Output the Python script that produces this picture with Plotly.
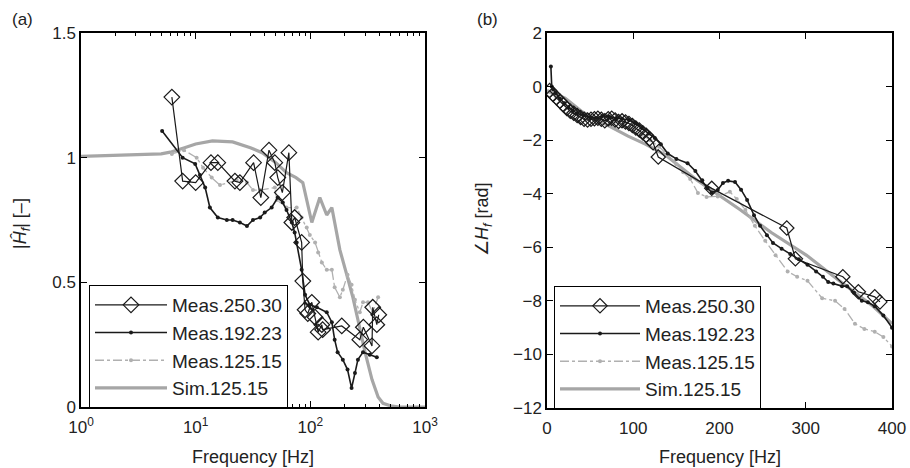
import plotly.graph_objects as go

# ---------------- (a) magnitude ----------------
sim_mag_f = [1, 2, 3, 5, 6, 7, 8, 10, 14, 21, 30, 38, 50, 62, 75, 86, 103, 121, 139, 154, 181, 208, 235, 260, 300, 345, 390, 430, 500, 600, 1000]
sim_mag_v = [1.005, 1.008, 1.01, 1.015, 1.022, 1.03, 1.04, 1.055, 1.067, 1.063, 1.04, 1.02, 0.98, 0.94, 0.92, 0.90, 0.74, 0.84, 0.77, 0.80, 0.63, 0.53, 0.44, 0.35, 0.22, 0.11, 0.04, 0.015, 0.005, 0.0, 0.0]

m125_mag_f = [6.2, 7.9, 10.2, 11.6, 13.8, 16.3, 22.8, 28, 31.6, 36.5, 49, 51, 62, 76, 84, 93, 99, 110, 117, 126, 139, 154, 163, 181, 192, 211, 229, 245, 270, 288, 318, 350, 390]
m125_mag_v = [1.015, 1.03, 1.0, 0.96, 0.92, 0.89, 0.91, 0.90, 0.87, 0.87, 0.88, 0.83, 0.80, 0.80, 0.76, 0.72, 0.69, 0.66, 0.62, 0.58, 0.55, 0.55, 0.48, 0.44, 0.47, 0.53, 0.49, 0.43, 0.38, 0.42, 0.42, 0.38, 0.44]

m192_mag_f = [5.1, 7.7, 9.9, 10.9, 12.1, 13.3, 15.6, 18.7, 21, 24.3, 28, 31.6, 36.5, 40, 46, 52, 57.5, 62, 69, 73, 76, 84, 90, 99, 114, 139, 154, 163, 173, 192, 211, 229, 245, 260, 288, 330, 380]
m192_mag_v = [1.107, 1.0, 0.975, 0.93, 0.88, 0.80, 0.76, 0.75, 0.75, 0.74, 0.726, 0.75, 0.76, 0.78, 0.80, 0.84, 0.82, 0.79, 0.74, 0.70, 0.66, 0.55, 0.45, 0.41, 0.40, 0.38, 0.34, 0.27, 0.22, 0.19, 0.15, 0.076, 0.136, 0.19, 0.22, 0.21, 0.20]

m250_mag_f = [6.2, 7.7, 10, 13.6, 15.6, 22, 24.3, 32, 37, 43.6, 49, 52, 57, 65, 69, 73, 84, 86, 90, 95, 103, 110, 117, 126, 128, 188, 270, 290, 345, 350, 380, 395]
m250_mag_v = [1.243, 0.906, 0.90, 0.98, 0.98, 0.906, 0.90, 0.98, 0.84, 1.03, 0.98, 0.92, 0.86, 1.02, 0.74, 0.76, 0.66, 0.505, 0.39, 0.375, 0.42, 0.36, 0.30, 0.33, 0.31, 0.325, 0.27, 0.32, 0.245, 0.40, 0.33, 0.37]

# ---------------- (b) phase ----------------
sim_ph_f = [0, 21, 41, 67, 94, 114, 137, 174, 224, 260, 279, 301, 337, 378, 400]
sim_ph_v = [-0.15, -0.43, -0.95, -1.4, -1.85, -2.15, -2.55, -3.5, -4.6, -5.45, -5.85, -6.3, -7.2, -8.2, -8.85]

m125_ph_f = [0, 10, 20, 30, 40, 50, 60, 70, 80, 90, 100, 110, 120, 130, 140, 150, 158, 166, 175, 185, 198, 212, 220, 230, 241, 253, 265, 279, 290, 302, 319, 334, 345, 357, 368, 380, 390, 400]
m125_ph_v = [-0.2, -0.35, -0.6, -0.85, -1.0, -1.15, -1.2, -1.2, -1.3, -1.4, -1.6, -1.8, -2.0, -2.25, -2.55, -2.9, -3.2, -3.45, -3.97, -4.12, -4.1, -3.93, -4.2, -4.6, -5.2, -5.76, -6.3, -6.9, -7.1, -7.25, -7.9, -8.0, -8.3, -8.85, -9.05, -9.15, -9.35, -9.7]

m192_ph_f = [4.5, 5.5, 7, 10, 15, 20, 25, 30, 35, 42, 50, 57, 64, 72, 80, 87, 95, 102, 110, 118, 125, 132, 140, 150, 163, 172, 180, 186, 191, 198, 204, 210, 218, 225, 232, 240, 247, 255, 262, 272, 282, 292, 302, 312, 320, 326, 332, 342, 348, 356, 365, 372, 380, 390, 400]
m192_ph_v = [0.75, 0.0, -0.1, -0.25, -0.45, -0.62, -0.78, -0.9, -1.0, -1.08, -1.15, -1.17, -1.1, -1.12, -1.18, -1.2, -1.25, -1.37, -1.55, -1.75, -1.92, -2.15, -2.5, -2.7, -2.86, -3.15, -3.5, -3.8, -3.95, -3.86, -3.6, -3.52, -3.56, -3.85, -4.23, -4.8, -5.2, -5.55, -5.84, -6.05, -6.25, -6.45, -6.65, -6.9, -7.1, -7.3, -7.35, -7.45, -7.45, -7.7, -8.0, -8.05, -8.2, -8.55, -9.0]

m250_ph_f = [3, 7, 11, 15, 19, 23, 27, 31, 35, 39, 43, 47, 51, 55, 59, 63, 67, 71, 75, 79, 83, 87, 91, 95, 99, 103, 107, 111, 115, 119, 123, 129, 191, 278, 288, 343, 361, 380, 386]
m250_ph_v = [-0.15, -0.3, -0.42, -0.55, -0.68, -0.82, -0.92, -1.0, -1.08, -1.15, -1.22, -1.25, -1.22, -1.2, -1.18, -1.22, -1.28, -1.2, -1.18, -1.25, -1.3, -1.28, -1.32, -1.38, -1.45, -1.55, -1.62, -1.72, -1.82, -1.95, -2.1, -2.63, -3.8, -5.28, -6.43, -7.1, -7.66, -7.85, -8.04]

names = ["Meas.250.30", "Meas.192.23", "Meas.125.15", "Sim.125.15"]
log_tickvals = [1, 10, 100, 1000]
log_ticktext = ["10<sup>0</sup>", "10<sup>1</sup>", "10<sup>2</sup>", "10<sup>3</sup>"]
log_minor = [m * 10 ** e for e in range(3) for m in range(2, 10)]

FONT = "Arial, Liberation Sans, Helvetica, sans-serif"
GRAY_SIM = "#a6a6a6"
GRAY_MEAS = "#b0b0b0"

fig = go.Figure()

def add_set(xa, ya, legend, sf, sv, f125, v125, f192, v192, f250, v250, dsize):
    fig.add_trace(go.Scatter(x=sf, y=sv, mode="lines", name=names[3], legendrank=4,
                             line=dict(color=GRAY_SIM, width=3.2), xaxis=xa, yaxis=ya, legend=legend))
    fig.add_trace(go.Scatter(x=f125, y=v125, mode="lines+markers", name=names[2], legendrank=3,
                             line=dict(color=GRAY_MEAS, width=1.3, dash="dashdot"),
                             marker=dict(color=GRAY_MEAS, size=4),
                             xaxis=xa, yaxis=ya, legend=legend))
    fig.add_trace(go.Scatter(x=f192, y=v192, mode="lines+markers", name=names[1], legendrank=2,
                             line=dict(color="#1a1a1a", width=1.6),
                             marker=dict(color="#1a1a1a", size=4),
                             xaxis=xa, yaxis=ya, legend=legend))
    fig.add_trace(go.Scatter(x=f250, y=v250, mode="lines+markers", name=names[0], legendrank=1,
                             line=dict(color="#1a1a1a", width=1.2),
                             marker=dict(symbol="diamond-open", color="#1a1a1a", size=dsize,
                                         line=dict(width=1.2)),
                             xaxis=xa, yaxis=ya, legend=legend))

add_set("x", "y", "legend", sim_mag_f, sim_mag_v, m125_mag_f, m125_mag_v,
        m192_mag_f, m192_mag_v, m250_mag_f, m250_mag_v, 12)
add_set("x2", "y2", "legend2", sim_ph_f, sim_ph_v, m125_ph_f, m125_ph_v,
        m192_ph_f, m192_ph_v, m250_ph_f, m250_ph_v, 11)

axis_common = dict(showline=True, linecolor="black", linewidth=1.5, mirror="allticks",
                   ticks="inside", ticklen=6, tickwidth=1.2, tickcolor="black",
                   showgrid=False, zeroline=False, automargin=False,
                   tickfont=dict(family=FONT, size=17, color="#222"))

H = 468
W = 910
leg_common = dict(xanchor="left", yanchor="top", bgcolor="white", bordercolor="black",
                  borderwidth=1, font=dict(family=FONT, size=19, color="#222"),
                  tracegroupgap=0)
fig.update_layout(
    width=W, height=H,
    margin=dict(l=0, r=0, t=0, b=0, autoexpand=False),
    paper_bgcolor="white", plot_bgcolor="white",
    font=dict(family=FONT, color="#222"),
    xaxis=dict(type="log", range=[0, 3], domain=[81 / W, 425 / W], anchor="y",
               tickvals=log_tickvals, ticktext=log_ticktext, ticklabelstandoff=4,
               minor=dict(ticks="inside", ticklen=3, tickcolor="black", showgrid=False,
                          tickvals=log_minor),
               **axis_common),
    yaxis=dict(range=[0, 1.5], domain=[1 - 407 / H, 1 - 33 / H], anchor="x",
               tickvals=[0, 0.5, 1, 1.5], ticktext=["0", "0.5", "1", "1.5"], **axis_common),
    xaxis2=dict(range=[0, 400], domain=[547 / W, 892 / W], anchor="y2",
                tickvals=[0, 100, 200, 300, 400], ticklabelstandoff=4, **axis_common),
    yaxis2=dict(range=[-12, 2], domain=[1 - 408 / H, 1 - 33 / H], anchor="x2",
                tickvals=[-12, -10, -8, -6, -4, -2, 0, 2], **axis_common),
    legend=dict(x=89 / W, y=1 - 285 / H, itemwidth=72, **leg_common),
    legend2=dict(x=554 / W, y=1 - 286 / H, itemwidth=80, **leg_common),
    showlegend=True,
)

ann_font = dict(family=FONT, size=18, color="#222")
fig.add_annotation(text="(a)", x=10 / W, y=1 - 20 / H, xref="paper", yref="paper",
                   xanchor="left", yanchor="middle", showarrow=False, font=dict(family=FONT, size=17, color="#222"))
fig.add_annotation(text="(b)", x=475 / W, y=1 - 20 / H, xref="paper", yref="paper",
                   xanchor="left", yanchor="middle", showarrow=False, font=dict(family=FONT, size=17, color="#222"))
fig.add_annotation(text="Frequency [Hz]", x=253 / W, y=1 - 457 / H, xref="paper", yref="paper",
                   xanchor="center", yanchor="middle", showarrow=False, font=ann_font)
fig.add_annotation(text="Frequency [Hz]", x=719.5 / W, y=1 - 457 / H, xref="paper", yref="paper",
                   xanchor="center", yanchor="middle", showarrow=False, font=ann_font)
fig.add_annotation(text="|<i>Ĥ<sub>f</sub></i>| [–]", x=21 / W, y=1 - 224 / H, xref="paper", yref="paper",
                   xanchor="center", yanchor="middle", showarrow=False, textangle=-90, font=ann_font)
fig.add_annotation(text="∠<i>H<sub>f</sub></i> [rad]", x=483 / W, y=1 - 219 / H, xref="paper", yref="paper",
                   xanchor="center", yanchor="middle", showarrow=False, textangle=-90, font=ann_font)

fig.write_html("out.html")
